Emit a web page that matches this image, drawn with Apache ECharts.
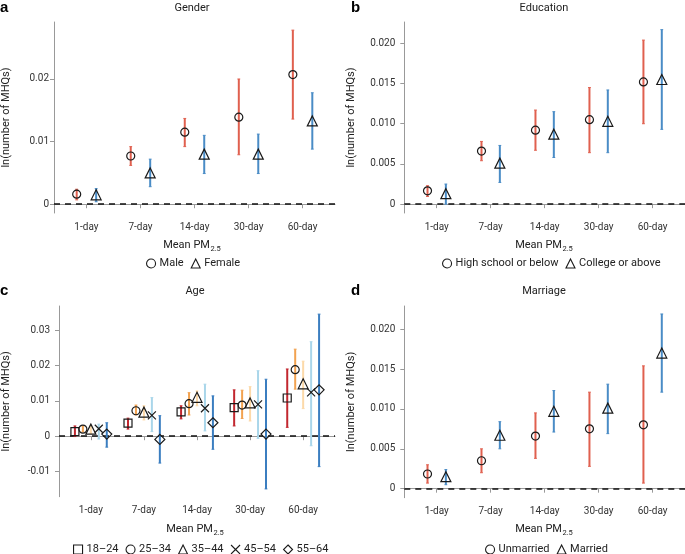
<!DOCTYPE html>
<html>
<head>
<meta charset="utf-8">
<script src="https://cdn.jsdelivr.net/npm/echarts@6/dist/echarts.min.js"></script>
<style>
html,body{margin:0;padding:0;background:#fff;}
#chart{width:685px;height:554px;}
</style>
</head>
<body>
<div id="chart"></div>
<script>
// ---------- Data ----------
const days = ['1-day', '7-day', '14-day', '30-day', '60-day'];

// Panel a: Gender
const maleEst = [0.0016, 0.0077, 0.0115, 0.0139, 0.0207];
const maleLo  = [0.0007, 0.0062, 0.0092, 0.0079, 0.0136];
const maleHi  = [0.0024, 0.0092, 0.0137, 0.0200, 0.0278];
const femaleEst = [0.0015, 0.0050, 0.0080, 0.0080, 0.0133];
const femaleLo  = [0.0004, 0.0028, 0.0049, 0.0049, 0.0088];
const femaleHi  = [0.0025, 0.0072, 0.0110, 0.0112, 0.0178];

// Panel b: Education
const hsEst = [0.00166, 0.0066, 0.0092, 0.0105, 0.0152];
const hsLo  = [0.00095, 0.0054, 0.0067, 0.0064, 0.0100];
const hsHi  = [0.0023, 0.0078, 0.0117, 0.0145, 0.0204];
const colEst = [0.0013, 0.0051, 0.0087, 0.0103, 0.0155];
const colLo  = [0.0000, 0.0027, 0.0058, 0.0064, 0.0093];
const colHi  = [0.0025, 0.0073, 0.0115, 0.0142, 0.0217];

// Panel c: Age
const age1824Est = [0.0013, 0.0037, 0.0069, 0.0081, 0.0108];
const age1824Lo  = [-0.0001, 0.0020, 0.0049, 0.0029, 0.0025];
const age1824Hi  = [0.0029, 0.0051, 0.0086, 0.0131, 0.0190];
const age2534Est = [0.0020, 0.0072, 0.0092, 0.0088, 0.0188];
const age2534Lo  = [0.0012, 0.0060, 0.0060, 0.0050, 0.0133];
const age2534Hi  = [0.0029, 0.0088, 0.0123, 0.0130, 0.0246];
const age3544Est = [0.0020, 0.0068, 0.0110, 0.0094, 0.0148];
const age3544Lo  = [0.0008, 0.0046, 0.0086, 0.0043, 0.0078];
const age3544Hi  = [0.0030, 0.0086, 0.0128, 0.0140, 0.0212];
const age4554Est = [0.0021, 0.0059, 0.0079, 0.0090, 0.0124];
const age4554Lo  = [-0.0008, 0.0013, 0.0015, -0.0006, -0.0027];
const age4554Hi  = [0.0034, 0.0109, 0.0147, 0.0185, 0.0267];
const age5564Est = [0.0006, -0.0009, 0.0038, 0.0006, 0.0131];
const age5564Lo  = [-0.0031, -0.0076, -0.0037, -0.0149, -0.0086];
const age5564Hi  = [0.0038, 0.0058, 0.0114, 0.0161, 0.0345];

// Panel d: Marriage
const unmarEst = [0.00184, 0.0035, 0.0066, 0.0075, 0.0080];
const unmarLo  = [0.0007, 0.0020, 0.0038, 0.0028, 0.0007];
const unmarHi  = [0.0030, 0.0050, 0.0095, 0.0121, 0.0154];
const marEst = [0.0015, 0.0067, 0.0097, 0.0101, 0.0170];
const marLo  = [0.0005, 0.0050, 0.0071, 0.0069, 0.0121];
const marHi  = [0.0024, 0.0084, 0.0123, 0.0131, 0.0219];

// ---------- Styling ----------
const RED = '#e0604f';
const BLUE = '#4a8cc6';
const AGE_COLORS = ['#c2272f', '#f2a250', '#fcd9a9', '#a9d6ea', '#3b7ec0'];
const FONT = 'Roboto';
const AXIS_GRAY = '#999';
const X_SYMBOL = 'path://M0,0L10,10M10,0L0,10';

const chart = echarts.init(document.getElementById('chart'), null, {renderer: 'canvas'});

const grids = [
  {left: 49, top: 22, width: 286, height: 191},
  {left: 404.3, top: 22, width: 280.7, height: 191},
  {left: 54.3, top: 306, width: 280.7, height: 190.7},
  {left: 404.3, top: 306, width: 280.7, height: 191.7}
];

const yRanges = [
  {min: -0.0014, max: 0.0291, ticks: [0, 0.01, 0.02], dec: 2, margin: 5, gap: 42},
  {min: -0.0011, max: 0.02265, ticks: [0, 0.005, 0.01, 0.015, 0.02], dec: 3, margin: 9, gap: 48},
  {min: -0.0171, max: 0.0368, ticks: [-0.01, 0, 0.01, 0.02, 0.03], dec: 2, margin: 9, gap: 47},
  {min: -0.00113, max: 0.0229, ticks: [0, 0.005, 0.01, 0.015, 0.02], dec: 3, margin: 9, gap: 48}
];

const xAxes = grids.map((g, i) => ({
  type: 'value', gridIndex: i, min: 0.4, max: 5.6,
  axisLine: {show: true, lineStyle: {color: AXIS_GRAY, width: 1}},
  axisTick: {show: true, customValues: [1, 2, 3, 4, 5], length: 4, lineStyle: {color: AXIS_GRAY}},
  axisLabel: {customValues: [1, 2, 3, 4, 5], formatter: v => days[Math.round(v) - 1],
    color: '#333', fontSize: 10, fontFamily: FONT, margin: 9},
  splitLine: {show: false}
}));

const yAxes = yRanges.map((r, i) => ({
  type: 'value', gridIndex: i, min: r.min, max: r.max,
  name: 'ln(number of MHQs)', nameLocation: 'middle', nameGap: r.gap, nameRotate: 90,
  nameTextStyle: {color: '#222', fontSize: 11, fontFamily: FONT},
  axisLine: {show: true, lineStyle: {color: AXIS_GRAY, width: 1}},
  axisTick: {show: true, customValues: r.ticks, length: 4, lineStyle: {color: AXIS_GRAY}},
  axisLabel: {customValues: r.ticks, formatter: v => (Math.abs(v) < 1e-9 ? '0' : v.toFixed(r.dec)),
    color: '#333', fontSize: 10, fontFamily: FONT, margin: r.margin},
  splitLine: {show: false}
}));

function errSeries(name, panel, offset, lo, hi, color, width) {
  const data = lo.map((l, k) => [k + 1 + offset, l, hi[k]]);
  return {
    type: 'custom', name: name + '_ci', xAxisIndex: panel, yAxisIndex: panel,
    data: data, z: 2, silent: true,
    itemStyle: {color: color},
    renderItem: function (params, api) {
      const x = api.value(0);
      const top = api.coord([x, api.value(2)]);
      const bot = api.coord([x, api.value(1)]);
      const st = {stroke: color, lineWidth: width};
      const c = 1.4;
      return {type: 'group', children: [
        {type: 'line', shape: {x1: top[0], y1: top[1], x2: bot[0], y2: bot[1]}, style: st},
        {type: 'line', shape: {x1: top[0] - c, y1: top[1], x2: top[0] + c, y2: top[1]}, style: {stroke: color, lineWidth: 1}},
        {type: 'line', shape: {x1: bot[0] - c, y1: bot[1], x2: bot[0] + c, y2: bot[1]}, style: {stroke: color, lineWidth: 1}}
      ]};
    }
  };
}

function ptSeries(name, panel, offset, est, symbol, size, withZero) {
  const s = {
    type: 'scatter', name: name, xAxisIndex: panel, yAxisIndex: panel,
    data: est.map((v, k) => [k + 1 + offset, v]),
    symbol: symbol, symbolSize: size, z: 5, silent: true,
    itemStyle: {color: 'rgba(0,0,0,0)', borderColor: '#1a1a1a', borderWidth: 1.2, opacity: 1}
  };
  if (withZero) {
    s.markLine = {
      silent: true, symbol: ['none', 'none'], label: {show: false},
      lineStyle: {color: '#111', width: 1.5, type: [6, 5]},
      data: [{yAxis: 0}], z: 1
    };
  }
  return s;
}

const series = [];
// a
series.push(errSeries('Male', 0, -0.18, maleLo, maleHi, RED, 2));
series.push(errSeries('Female', 0, 0.18, femaleLo, femaleHi, BLUE, 2));
series.push(ptSeries('Male', 0, -0.18, maleEst, 'circle', 8, true));
series.push(ptSeries('Female', 0, 0.18, femaleEst, 'triangle', 10, false));
// b
series.push(errSeries('High school or below', 1, -0.17, hsLo, hsHi, RED, 2));
series.push(errSeries('College or above', 1, 0.17, colLo, colHi, BLUE, 2));
series.push(ptSeries('High school or below', 1, -0.17, hsEst, 'circle', 8, true));
series.push(ptSeries('College or above', 1, 0.17, colEst, 'triangle', 10, false));
// c
const ageNames = ['18–24', '25–34', '35–44', '45–54', '55–64'];
const ageEst = [age1824Est, age2534Est, age3544Est, age4554Est, age5564Est];
const ageLo = [age1824Lo, age2534Lo, age3544Lo, age4554Lo, age5564Lo];
const ageHi = [age1824Hi, age2534Hi, age3544Hi, age4554Hi, age5564Hi];
const ageSym = ['rect', 'circle', 'triangle', X_SYMBOL, 'diamond'];
const ageSize = [8, 8, 10, 8, 10];
const ageOff = [-0.3, -0.15, 0, 0.15, 0.3];
for (let k = 0; k < 5; k++) {
  series.push(errSeries(ageNames[k], 2, ageOff[k], ageLo[k], ageHi[k], AGE_COLORS[k], 2));
}
for (let k = 0; k < 5; k++) {
  series.push(ptSeries(ageNames[k], 2, ageOff[k], ageEst[k], ageSym[k], ageSize[k], k === 0));
}
// d
series.push(errSeries('Unmarried', 3, -0.17, unmarLo, unmarHi, RED, 2));
series.push(errSeries('Married', 3, 0.17, marLo, marHi, BLUE, 2));
series.push(ptSeries('Unmarried', 3, -0.17, unmarEst, 'circle', 8, true));
series.push(ptSeries('Married', 3, 0.17, marEst, 'triangle', 10, false));

const legendItemStyle = {color: 'rgba(0,0,0,0)', borderColor: '#1a1a1a', borderWidth: 1.1};
function mkLegend(names, icons, left, top) {
  return {
    left: left, top: top, orient: 'horizontal', itemGap: 7, itemWidth: 9, itemHeight: 9,
    selectedMode: false,
    textStyle: {color: '#222', fontSize: 11, fontFamily: FONT, padding: [0, 0, 0, -1]},
    data: names.map((n, k) => ({name: n, icon: icons[k], itemStyle: legendItemStyle}))
  };
}

const legends = [
  mkLegend(['Male', 'Female'], ['circle', 'triangle'], 141, 253),
  mkLegend(['High school or below', 'College or above'], ['circle', 'triangle'], 437, 253),
  mkLegend(ageNames, ['rect', 'circle', 'triangle', X_SYMBOL, 'diamond'], 68, 539),
  mkLegend(['Unmarried', 'Married'], ['circle', 'triangle'], 480, 539)
];

function txt(x, y, text, opts) {
  return Object.assign({
    type: 'text', x: x, y: y, silent: true,
    style: Object.assign({text: text, fill: '#222', font: '11px ' + FONT, textAlign: 'center', textVerticalAlign: 'middle'}, opts || {})
  });
}
function meanPM(x, y) {
  return {
    type: 'text', x: x, y: y, silent: true,
    style: {
      text: '{m|Mean PM}{s|2.5}', textAlign: 'center', textVerticalAlign: 'middle',
      rich: {
        m: {fontSize: 11, fontFamily: FONT, fill: '#222', lineHeight: 16, verticalAlign: 'middle'},
        s: {fontSize: 7.5, fontFamily: FONT, fill: '#222', lineHeight: 16, verticalAlign: 'bottom', padding: [0, 0, 0, 0.5]}
      }
    }
  };
}

const graphics = [
  txt(192, 8, 'Gender'),
  txt(544, 8, 'Education'),
  txt(195, 291.5, 'Age'),
  txt(544, 291.5, 'Marriage'),
  txt(0, 8, 'a', {font: 'bold 15px "Liberation Sans"', textAlign: 'left', fill: '#000'}),
  txt(351, 8, 'b', {font: 'bold 15px "Liberation Sans"', textAlign: 'left', fill: '#000'}),
  txt(0, 291, 'c', {font: 'bold 15px "Liberation Sans"', textAlign: 'left', fill: '#000'}),
  txt(351, 291, 'd', {font: 'bold 15px "Liberation Sans"', textAlign: 'left', fill: '#000'}),
  meanPM(192, 245),
  meanPM(544, 245),
  meanPM(195, 529.5),
  meanPM(544, 529.5)
];

chart.setOption({
  animation: false,
  backgroundColor: '#fff',
  grid: grids,
  xAxis: xAxes,
  yAxis: yAxes,
  legend: legends,
  graphic: graphics,
  series: series
});
</script>
</body>
</html>
